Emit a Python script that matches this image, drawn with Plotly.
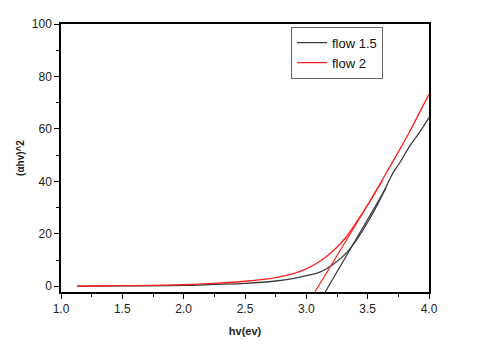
import plotly.graph_objects as go

# curves
hv_15 = [1.13, 1.5, 2.0, 2.25, 2.5, 2.75, 2.9, 3.0, 3.11, 3.22, 3.33, 3.41, 3.52, 3.6, 3.68, 3.71, 3.76, 3.845, 3.92, 4.0]
ahv_15 = [0.0, 0.1, 0.3, 0.7, 1.1, 2.0, 3.0, 4.0, 5.4, 8.4, 12.8, 17.7, 26.0, 33.0, 40.8, 43.5, 47.0, 53.6, 58.5, 64.3]

hv_2 = [1.13, 1.5, 2.0, 2.25, 2.5, 2.75, 2.9, 3.0, 3.11, 3.22, 3.32, 3.41, 3.52, 3.6, 3.68, 3.76, 3.845, 3.92, 4.0]
ahv_2 = [0.0, 0.2, 0.6, 1.1, 1.9, 3.3, 4.9, 6.6, 9.5, 13.5, 18.5, 24.5, 32.5, 39.0, 45.5, 52.0, 59.2, 66.0, 73.2]

# tangent (Tauc) lines
fit_hv_15 = [3.154, 3.65]
fit_ahv_15 = [-2.2, 37.5]
fit_hv_2 = [3.07, 3.62]
fit_ahv_2 = [-2.2, 40.2]

gray = "#3c3c3c"
red = "#ff2020"
font = "Arial, Liberation Sans, sans-serif"

fig = go.Figure()
fig.add_trace(go.Scatter(x=hv_15, y=ahv_15, mode="lines", name="flow 1.5",
                         line=dict(color=gray, width=1.3, shape="spline")))
fig.add_trace(go.Scatter(x=hv_2, y=ahv_2, mode="lines", name="flow 2",
                         line=dict(color=red, width=1.3, shape="spline")))
fig.add_trace(go.Scatter(x=fit_hv_15, y=fit_ahv_15, mode="lines", showlegend=False,
                         line=dict(color=gray, width=1.2)))
fig.add_trace(go.Scatter(x=fit_hv_2, y=fit_ahv_2, mode="lines", showlegend=False,
                         line=dict(color=red, width=1.2)))

axis = dict(showgrid=False, zeroline=False, showline=True, linecolor="black", linewidth=1.5,
            mirror=True, ticks="outside", ticklen=5, tickwidth=1.2, tickcolor="black",
            tickfont=dict(family=font, size=12, color="#222"))

# page has an 8px body margin, so the figure is a bit smaller than the window
fig.update_layout(
    width=472, height=337,
    margin=dict(l=53, r=51, t=9, b=53),
    paper_bgcolor="white", plot_bgcolor="white",
    font=dict(family=font, color="#222"),
    xaxis=dict(axis, range=[1.0, 4.0], dtick=0.5, tickformat=".1f",
               minor=dict(ticks="outside", ticklen=3, dtick=0.25, tickcolor="black"),
               title=dict(text="<b>hv(ev)</b>", font=dict(size=11), standoff=12)),
    yaxis=dict(axis, range=[-2.2, 100], dtick=20,
               minor=dict(ticks="outside", ticklen=3, dtick=10, tickcolor="black"),
               title=dict(text="<b>(αhv)^2</b>", font=dict(size=10), standoff=5)),
    legend=dict(x=0.625, y=0.99, xanchor="left", yanchor="top",
                bgcolor="white", bordercolor="#666", borderwidth=1,
                font=dict(family=font, size=13, color="#111"), tracegroupgap=0),
)

fig.write_html("out.html")
